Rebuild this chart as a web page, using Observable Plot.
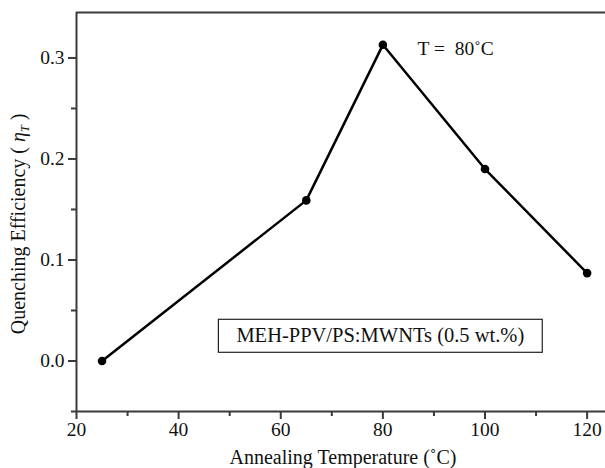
<!DOCTYPE html>
<html>
<head>
<meta charset="utf-8">
<script src="https://cdn.jsdelivr.net/npm/d3@7"></script>
<script src="https://cdn.jsdelivr.net/npm/@observablehq/plot@0.6"></script>
<style>
  html, body { margin: 0; padding: 0; background: #fff; }
  #chart svg { display: block; }
</style>
</head>
<body>
<div id="chart"></div>
<script>
// Data
const temperatures = [25, 65, 80, 100, 120];           // Annealing temperature (°C)
const efficiencies = [0.0, 0.159, 0.313, 0.190, 0.087]; // Quenching efficiency η_T

const xMajorTicks = [20, 40, 60, 80, 100, 120];
const xMinorTicks = [30, 50, 70, 90, 110];
const yMajorTicks = [0.0, 0.1, 0.2, 0.3];
const yMinorTicks = [-0.05, 0.05, 0.15, 0.25];

const xDomain = [20, 123.6];
const yDomain = [-0.05, 0.345];

const peakNote = [{x: 86.8, y: 0.309, text: "T =\u00a0\u00a080\u02daC"}];
const legendNote = [{x: 79.5, y: 0.025, text: "MEH-PPV/PS:MWNTs (0.5 wt.%)"}];

const xLabel = "Annealing Temperature (\u02daC)";

const data = temperatures.map((t, i) => ({t, eta: efficiencies[i]}));

const axisColor = "#3a3a3a";
const font = "Liberation Serif, Times New Roman, serif";

const chart = Plot.plot({
  width: 605,
  height: 468,
  marginLeft: 76,
  marginTop: 12,
  marginBottom: 57,
  marginRight: 0,
  style: {fontFamily: font, fontSize: "19px", background: "#fff", color: "#111", overflow: "visible"},
  x: {domain: xDomain, label: null},
  y: {domain: yDomain, label: null},
  marks: [
    Plot.axisX({ticks: xMajorTicks, tickSize: 8, tickPadding: 3, tickFormat: d => d, stroke: axisColor, strokeWidth: 2, fill: "#111", fontSize: 19.5}),
    Plot.axisX({ticks: xMinorTicks, tickSize: 5, tickFormat: () => "", stroke: axisColor, strokeWidth: 2}),
    Plot.axisY({ticks: yMajorTicks, tickSize: 8, tickPadding: 4, tickFormat: d3.format(".1f"), stroke: axisColor, strokeWidth: 2, fill: "#111", fontSize: 19.5}),
    Plot.axisY({ticks: yMinorTicks, tickSize: 5, tickFormat: () => "", stroke: axisColor, strokeWidth: 2}),
    Plot.ruleX([xDomain[0]], {stroke: axisColor, strokeWidth: 2}),
    Plot.ruleY([yDomain[0]], {stroke: axisColor, strokeWidth: 2}),
    Plot.ruleY([yDomain[1]], {stroke: axisColor, strokeWidth: 2}),
    Plot.line(data, {x: "t", y: "eta", stroke: "#000", strokeWidth: 2.5}),
    Plot.dot(data, {x: "t", y: "eta", r: 4.3, fill: "#000", stroke: "none"}),
    Plot.text(peakNote, {x: "x", y: "y", text: "text", textAnchor: "start", fontSize: 19.5, fill: "#111", fontFamily: font}),
    Plot.text(legendNote, {x: "x", y: "y", text: "text", textAnchor: "middle", fontSize: 20.5, fill: "#111", fontFamily: font, className: "legend-note"})
  ]
});

document.getElementById("chart").appendChild(chart);

const svg = d3.select(chart);

// Box around the legend note, sized from its rendered text
const legendText = chart.querySelector(".legend-note text");
if (legendText) {
  const svgRect = chart.getBoundingClientRect();
  const r = legendText.getBoundingClientRect();
  const padX = 18, padY = 5;
  svg.append("rect")
    .attr("x", r.left - svgRect.left - padX)
    .attr("y", r.top - svgRect.top - padY)
    .attr("width", r.width + 2 * padX)
    .attr("height", r.height + 2 * padY)
    .attr("fill", "none")
    .attr("stroke", "#222")
    .attr("stroke-width", 1.2);
}

// X axis title
svg.append("text")
  .attr("x", 343)
  .attr("y", 464)
  .attr("text-anchor", "middle")
  .attr("font-family", font)
  .attr("font-size", 20)
  .attr("fill", "#111")
  .text(xLabel);

// Y axis title with italic eta and subscript T
const yt = svg.append("text")
  .attr("transform", "translate(25,224) rotate(-90)")
  .attr("text-anchor", "middle")
  .attr("font-family", font)
  .attr("font-size", 20)
  .attr("fill", "#111");
yt.append("tspan").text("Quenching Efficiency ( ");
yt.append("tspan").attr("font-style", "italic").text("\u03b7");
yt.append("tspan").attr("font-style", "italic").attr("font-size", 12).attr("dy", 4).text("T");
yt.append("tspan").attr("dy", -4).text(" )");
</script>
</body>
</html>
